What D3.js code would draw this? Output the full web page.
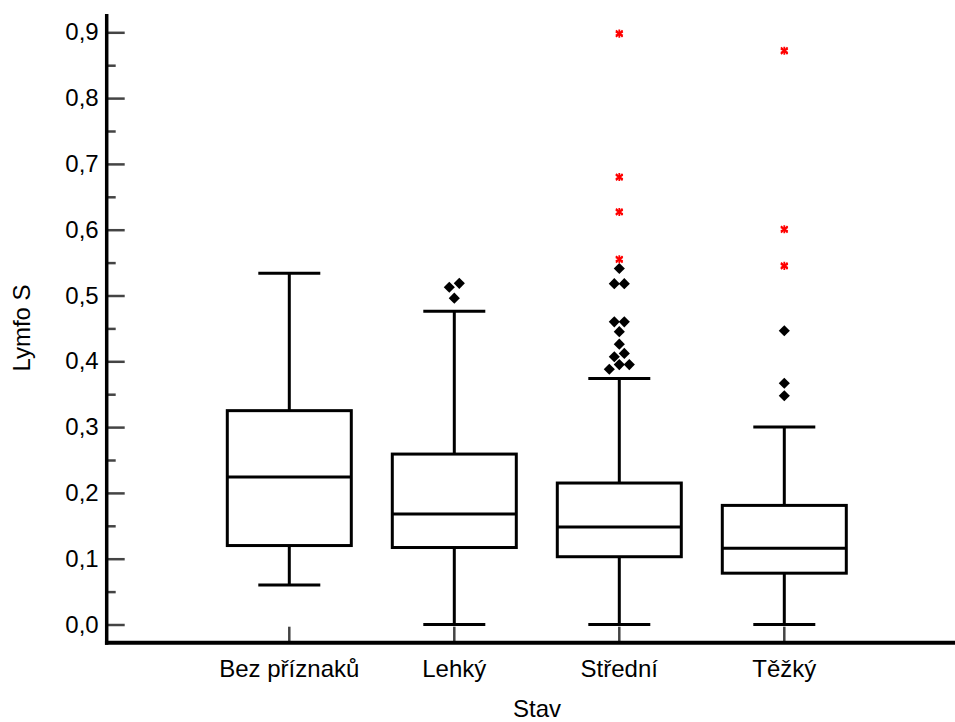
<!DOCTYPE html>
<html>
<head>
<meta charset="utf-8">
<script src="https://cdn.jsdelivr.net/npm/d3@7"></script>
<style>
  html, body { margin: 0; padding: 0; background: #fff; }
  svg { display: block; }
  text { font-family: "Liberation Sans", Arial, sans-serif; }
</style>
</head>
<body>
<svg id="chart" width="955" height="722"></svg>
<script>
// ---- data ----
const categories = ["Bez příznaků", "Lehký", "Střední", "Těžký"];
const whiskerLow  = [0.060, 0.000, 0.000, 0.000];
const q1          = [0.120, 0.117, 0.103, 0.078];
const median      = [0.224, 0.168, 0.148, 0.116];
const q3          = [0.325, 0.259, 0.215, 0.181];
const whiskerHigh = [0.534, 0.476, 0.374, 0.300];
// outliers: [category, value, jitter slot]
const outliers = [
  ["Lehký", 0.5125, -1], ["Lehký", 0.5185, 1], ["Lehký", 0.496, 0],
  ["Střední", 0.541, 0],
  ["Střední", 0.518, -1], ["Střední", 0.518, 1],
  ["Střední", 0.460, -1], ["Střední", 0.460, 1],
  ["Střední", 0.445, 0],
  ["Střední", 0.426, 0],
  ["Střední", 0.407, -1], ["Střední", 0.412, 1],
  ["Střední", 0.388, -2], ["Střední", 0.395, 0], ["Střední", 0.395, 2],
  ["Těžký", 0.4465, 0], ["Těžký", 0.3666, 0], ["Těžký", 0.3477, 0]
];
// extreme values: [category, value]
const extremes = [
  ["Střední", 0.898], ["Střední", 0.680], ["Střední", 0.627], ["Střední", 0.555],
  ["Těžký", 0.872], ["Těžký", 0.6006], ["Těžký", 0.545]
];
const yTicks = [0, 0.1, 0.2, 0.3, 0.4, 0.5, 0.6, 0.7, 0.8, 0.9];
const yMinorTicks = [0.05, 0.15, 0.25, 0.35, 0.45, 0.55, 0.65, 0.75, 0.85];
const xTitle = "Stav";
const yTitle = "Lymfo S";

// ---- layout ----
const svg = d3.select("#chart");
const axisX = 106.7, axisY = 642.7;
const y = d3.scaleLinear().domain([0, 0.9]).range([624.5, 32.3]);
const x = d3.scalePoint().domain(categories).range([289.3, 784.3]);
const boxHalf = 62, capHalf = 31, slotW = 5;
const tickColor = "#444";
const locale = d3.formatLocale({decimal: ",", thousands: " ", grouping: [3], currency: ["", ""]});
const fmt = locale.format(".1f");

// y axis (ticks pointing inward)
const gy = svg.append("g").attr("transform", `translate(${axisX},0)`)
  .call(d3.axisLeft(y).tickValues(yTicks).tickSize(-18).tickPadding(8).tickFormat(fmt));
gy.select(".domain").remove();
gy.selectAll(".tick line").attr("stroke", tickColor).attr("stroke-width", 2.5);
gy.selectAll(".tick text").attr("font-size", 24).attr("fill", "#000")
  .attr("font-family", "'Liberation Sans', Arial, sans-serif");
const gyMinor = svg.append("g").attr("transform", `translate(${axisX},0)`)
  .call(d3.axisLeft(y).tickValues(yMinorTicks).tickSize(-9).tickFormat(""));
gyMinor.select(".domain").remove();
gyMinor.selectAll(".tick line").attr("stroke", tickColor).attr("stroke-width", 2.5);

// x axis ticks (upward)
svg.append("g").selectAll("line").data(categories).join("line")
  .attr("x1", d => x(d)).attr("x2", d => x(d))
  .attr("y1", axisY - 16).attr("y2", axisY)
  .attr("stroke", tickColor).attr("stroke-width", 2.5);

// x labels
svg.append("g").selectAll("text").data(categories).join("text")
  .attr("x", d => x(d)).attr("y", 677)
  .attr("text-anchor", "middle").attr("font-size", 24).attr("fill", "#000")
  .text(d => d);

// boxes
const boxes = svg.append("g").selectAll("g").data(categories).join("g");
boxes.append("line") // upper whisker
  .attr("x1", d => x(d)).attr("x2", d => x(d))
  .attr("y1", (d, i) => y(q3[i])).attr("y2", (d, i) => y(whiskerHigh[i]))
  .attr("stroke", "#000").attr("stroke-width", 3);
boxes.append("line") // lower whisker
  .attr("x1", d => x(d)).attr("x2", d => x(d))
  .attr("y1", (d, i) => y(q1[i])).attr("y2", (d, i) => y(whiskerLow[i]))
  .attr("stroke", "#000").attr("stroke-width", 3);
boxes.append("line") // upper cap
  .attr("x1", d => x(d) - capHalf).attr("x2", d => x(d) + capHalf)
  .attr("y1", (d, i) => y(whiskerHigh[i])).attr("y2", (d, i) => y(whiskerHigh[i]))
  .attr("stroke", "#000").attr("stroke-width", 3);
boxes.append("line") // lower cap
  .attr("x1", d => x(d) - capHalf).attr("x2", d => x(d) + capHalf)
  .attr("y1", (d, i) => y(whiskerLow[i])).attr("y2", (d, i) => y(whiskerLow[i]))
  .attr("stroke", "#000").attr("stroke-width", 3);
boxes.append("rect")
  .attr("x", d => x(d) - boxHalf).attr("width", boxHalf * 2)
  .attr("y", (d, i) => y(q3[i])).attr("height", (d, i) => y(q1[i]) - y(q3[i]))
  .attr("fill", "#fff").attr("stroke", "#000").attr("stroke-width", 3);
boxes.append("line") // median
  .attr("x1", d => x(d) - boxHalf).attr("x2", d => x(d) + boxHalf)
  .attr("y1", (d, i) => y(median[i])).attr("y2", (d, i) => y(median[i]))
  .attr("stroke", "#000").attr("stroke-width", 3);

// outliers (diamonds)
svg.append("g").selectAll("path").data(outliers).join("path")
  .attr("d", d3.symbol(d3.symbolSquare, 62))
  .attr("transform", d => `translate(${x(d[0]) + d[2] * slotW},${y(d[1])}) rotate(45)`)
  .attr("fill", "#000");

// extremes (red asterisks)
const ext = svg.append("g").selectAll("g").data(extremes).join("g")
  .attr("transform", d => `translate(${x(d[0])},${y(d[1])})`);
ext.append("path").attr("d", d3.symbol(d3.symbolAsterisk, 45))
  .attr("fill", "none").attr("stroke", "#f00").attr("stroke-width", 1.8);
ext.append("path").attr("d", d3.symbol(d3.symbolTimes, 30))
  .attr("fill", "none").attr("stroke", "#f00").attr("stroke-width", 1.8);

// axis lines
svg.append("line").attr("x1", axisX).attr("x2", axisX).attr("y1", 14).attr("y2", axisY + 2)
  .attr("stroke", "#000").attr("stroke-width", 3.5);
svg.append("line").attr("x1", axisX - 1.75).attr("x2", 955).attr("y1", axisY).attr("y2", axisY)
  .attr("stroke", "#000").attr("stroke-width", 4);

// titles
svg.append("text").attr("x", 537).attr("y", 717)
  .attr("text-anchor", "middle").attr("font-size", 24).attr("fill", "#000").text(xTitle);
svg.append("text").attr("transform", "translate(30,328) rotate(-90)")
  .attr("text-anchor", "middle").attr("font-size", 24).attr("fill", "#000").text(yTitle);
</script>
</body>
</html>
